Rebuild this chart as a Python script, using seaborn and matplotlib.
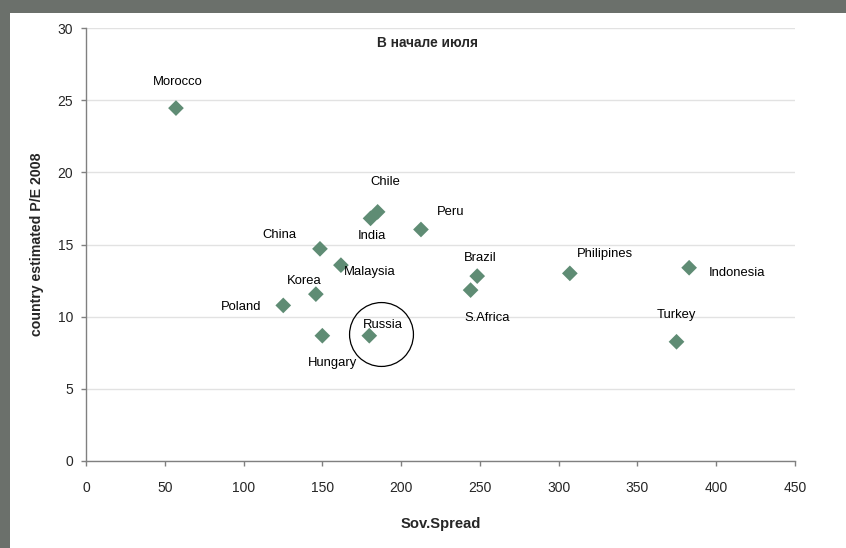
import pandas as pd
import matplotlib.pyplot as plt
import seaborn as sns
from matplotlib.transforms import offset_copy

# Данные с графика
countries = ["Morocco", "Chile", "India", "Peru", "China", "Malaysia", "Korea", "Poland",
             "Hungary", "Russia", "Brazil", "S.Africa", "Philipines", "Indonesia", "Turkey"]
spread = [57.1, 185.1, 180.6, 212.6, 148.5, 161.8, 145.9, 125.2,
          150.0, 179.8, 248.3, 244.1, 307.1, 382.8, 374.8]
pe_2008 = [24.45, 17.26, 16.81, 16.04, 14.70, 13.57, 11.56, 10.78,
           8.68, 8.68, 12.81, 11.84, 13.00, 13.39, 8.26]

# сдвиг подписей (в пикселях)
label_offsets = {
    "Morocco": (2, 26), "Chile": (8, 30), "India": (1, -18), "Peru": (30, 17),
    "China": (-41, 14), "Malaysia": (29, -7), "Korea": (-12, 13), "Poland": (-42, -2),
    "Hungary": (10, -27), "Russia": (14, 11), "Brazil": (3, 18), "S.Africa": (17, -28),
    "Philipines": (35, 19), "Indonesia": (48, -5), "Turkey": (0, 27),
}

df = pd.DataFrame({"country": countries, "spread": spread, "pe": pe_2008})

sns.set_style("white")
plt.rcParams["font.family"] = ["Liberation Sans", "DejaVu Sans"]

fig = plt.figure(figsize=(8.46, 5.48), dpi=100, facecolor="#6b706b")
fig.patches.append(plt.Rectangle((10 / 846, 0), 1, 1 - 13 / 548, transform=fig.transFigure,
                                 facecolor="white", edgecolor="none", zorder=-10))
ax = fig.add_axes([86 / 846, 1 - 461 / 548, (795 - 86) / 846, (461 - 28) / 548])
ax.set_facecolor("white")

sns.scatterplot(data=df, x="spread", y="pe", marker="D", s=64, color="#5f8c74",
                edgecolor="none", ax=ax, zorder=3)

for c, x, y in zip(countries, spread, pe_2008):
    dx, dy = label_offsets[c]
    ax.annotate(c, (x, y), xytext=(dx, dy), textcoords="offset pixels",
                ha="center", va="center", fontsize=9.4, color="black")

# кружок вокруг России
ri = countries.index("Russia")
trans = offset_copy(ax.transData, fig=fig, x=12, y=1.5, units="dots")
ax.plot([spread[ri]], [pe_2008[ri]], marker="o", ms=46, mfc="none", mec="black",
        mew=0.9, transform=trans, zorder=4)

ax.set_xlim(0, 450)
ax.set_ylim(0, 30)
ax.set_xticks(range(0, 451, 50))
ax.set_yticks(range(0, 31, 5))
ax.grid(axis="y", color="#e2e2e2", linewidth=1)
ax.set_axisbelow(True)
for s in ["top", "right"]:
    ax.spines[s].set_visible(False)
for s in ["left", "bottom"]:
    ax.spines[s].set_color("#808080")
    ax.spines[s].set_linewidth(1)
ax.tick_params(axis="both", direction="out", length=3.6, width=1, color="#808080",
               labelsize=10, left=True, bottom=True)
ax.tick_params(axis="y", pad=5.8)
ax.tick_params(axis="x", pad=10.8)

ax.set_xlabel("Sov.Spread", fontsize=10.6, fontweight="bold")
ax.set_ylabel("country estimated P/E 2008", fontsize=10.2, fontweight="bold")
ax.xaxis.set_label_coords(0.5, -0.129)
ax.yaxis.set_label_coords(-0.059, 0.5)

fig.text(427 / 846, 1 - 43 / 548, "В начале июля", ha="center", va="center",
         fontsize=9.8, fontweight="bold")

fig.savefig("out.png", dpi=100, facecolor=fig.get_facecolor())
